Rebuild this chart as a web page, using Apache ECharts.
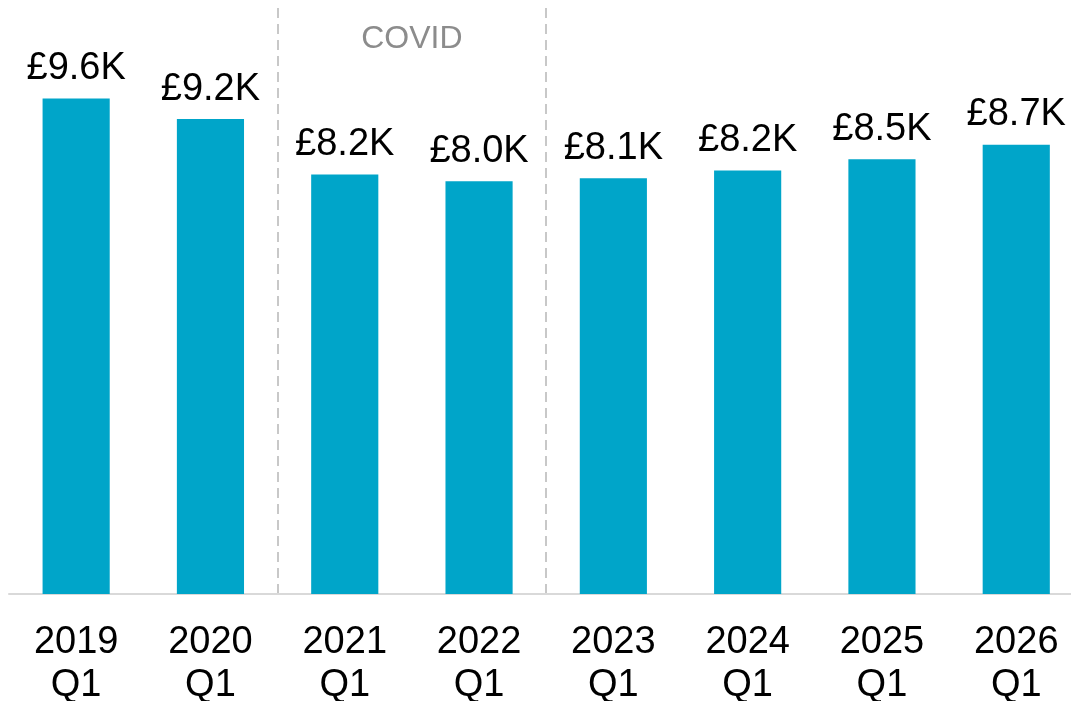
<!DOCTYPE html>
<html>
<head>
<meta charset="utf-8">
<script src="https://cdn.jsdelivr.net/npm/echarts@6/dist/echarts.min.js"></script>
<style>
  html, body { margin: 0; padding: 0; background: #ffffff; }
  #chart { width: 1071px; height: 701px; }
</style>
</head>
<body>
<div id="chart"></div>
<script>
// Average value per quarter, in thousands of pounds
const categories = ['2019\nQ1', '2020\nQ1', '2021\nQ1', '2022\nQ1', '2023\nQ1', '2024\nQ1', '2025\nQ1', '2026\nQ1'];
const values = [9.64, 9.24, 8.16, 8.03, 8.09, 8.24, 8.46, 8.74];
// Shaded period (first and last category of the band) and its caption
const covidSpan = ['2021\nQ1', '2022\nQ1'];
const covidLabel = 'COVID';
// Category indices where a dashed divider is drawn (at the left edge of that category)
const dividerIndices = [2, 4];

const FONT = '"Liberation Sans", Arial, sans-serif';

const chart = echarts.init(document.getElementById('chart'));
chart.setOption({
  animation: false,
  backgroundColor: '#ffffff',
  grid: { left: 9, width: 1074.4, top: 8, bottom: 107, outerBoundsMode: 'none' },
  xAxis: {
    type: 'category',
    data: categories,
    boundaryGap: true,
    axisLine: { show: true, lineStyle: { color: '#d9d9d9', width: 2 } },
    axisTick: { show: false },
    axisLabel: {
      interval: 0,
      margin: 27,
      color: '#000000',
      fontFamily: FONT,
      fontSize: 38,
      lineHeight: 43
    },
    splitLine: {
      show: true,
      interval: function (index) { return dividerIndices.indexOf(index) !== -1; },
      lineStyle: { color: '#c8c8c8', width: 2, type: [10, 6] }
    }
  },
  yAxis: {
    type: 'value',
    min: 0,
    max: 11.4,
    show: false,
    splitLine: { show: false }
  },
  series: [{
    type: 'bar',
    data: values,
    barWidth: '50%',
    itemStyle: { color: '#00a5c9' },
    label: {
      show: true,
      position: 'top',
      distance: 11,
      color: '#000000',
      fontFamily: FONT,
      fontSize: 38,
      formatter: function (p) { return '£' + p.value.toFixed(1) + 'K'; }
    },
    markArea: {
      silent: true,
      itemStyle: { color: 'rgba(0,0,0,0)' },
      label: {
        show: true,
        position: 'insideTop',
        distance: 15,
        color: '#8c8c8c',
        fontFamily: FONT,
        fontSize: 32
      },
      data: [[
        { xAxis: covidSpan[0], name: covidLabel },
        { xAxis: covidSpan[1] }
      ]]
    }
  }]
});
</script>
</body>
</html>
